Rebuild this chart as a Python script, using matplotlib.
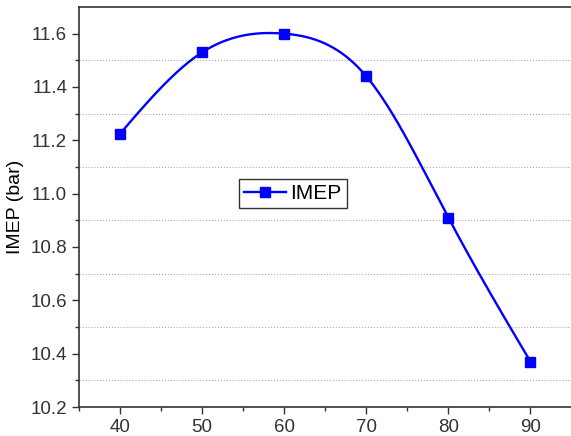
import numpy as np
import matplotlib.pyplot as plt
from matplotlib.ticker import MultipleLocator

plt.rcParams['font.family'] = ['Liberation Sans', 'DejaVu Sans']

x_vals = [40, 50, 60, 70, 80, 90]
imep = [11.225, 11.53, 11.60, 11.44, 10.91, 10.37]


def natural_spline(x, y, n=300):
    # plain natural cubic spline, only used to draw the smooth connecting line
    x = np.asarray(x, float)
    y = np.asarray(y, float)
    k = len(x)
    h = np.diff(x)
    A = np.zeros((k, k))
    b = np.zeros(k)
    A[0, 0] = A[-1, -1] = 1
    for i in range(1, k - 1):
        A[i, i - 1] = h[i - 1]
        A[i, i] = 2 * (h[i - 1] + h[i])
        A[i, i + 1] = h[i]
        b[i] = 3 * ((y[i + 1] - y[i]) / h[i] - (y[i] - y[i - 1]) / h[i - 1])
    c = np.linalg.solve(A, b)
    xs = np.linspace(x[0], x[-1], n)
    ys = np.empty_like(xs)
    for j, xx in enumerate(xs):
        i = min(np.searchsorted(x, xx, side='right') - 1, k - 2)
        d = xx - x[i]
        bi = (y[i + 1] - y[i]) / h[i] - h[i] * (2 * c[i] + c[i + 1]) / 3
        di = (c[i + 1] - c[i]) / (3 * h[i])
        ys[j] = y[i] + bi * d + c[i] * d ** 2 + di * d ** 3
    return xs, ys


fig = plt.figure(figsize=(5.71, 4.36), dpi=100)
ax = fig.add_axes([0.1384, 0.0665, 0.8625, 0.9175])

xs, ys = natural_spline(x_vals, imep)
ax.plot(xs, ys, color='#0000ff', lw=1.7)
ax.plot(x_vals, imep, ls='none', marker='s', ms=6.5, color='#0000ff')
# legend proxy: line with marker
ax.plot([], [], color='#0000ff', lw=1.7, marker='s', ms=6.5, label='IMEP')

ax.set_xlim(35, 95)
ax.set_ylim(10.2, 11.7)
ax.xaxis.set_major_locator(MultipleLocator(10))
ax.xaxis.set_minor_locator(MultipleLocator(5))
ax.set_yticks(np.arange(10.2, 11.61, 0.2))
ax.set_yticks(np.arange(10.3, 11.6, 0.2), minor=True)
ax.grid(which='minor', axis='y', color='#aaaaaa', ls=':', lw=0.8)

ax.tick_params(which='both', direction='out', color='#333333', labelsize=13.5, labelcolor='#333333')
ax.tick_params(which='major', length=5, width=1)
ax.tick_params(which='minor', length=3, width=1)
for s in ['left', 'bottom', 'top']:
    ax.spines[s].set_color('#333333')
    ax.spines[s].set_linewidth(1.2)
ax.spines['right'].set_visible(False)

ax.set_ylabel('IMEP (bar)', fontsize=14, labelpad=5)

leg = ax.legend(loc='upper left', bbox_to_anchor=(239 / 571, 1 - 179 / 436),
                bbox_transform=fig.transFigure, fontsize=15, fancybox=False,
                framealpha=1, edgecolor='#333333', borderpad=0.25,
                handlelength=2.0, handletextpad=0.2, borderaxespad=0)
leg.get_frame().set_linewidth(1.0)

fig.savefig('out.png', dpi=100)
